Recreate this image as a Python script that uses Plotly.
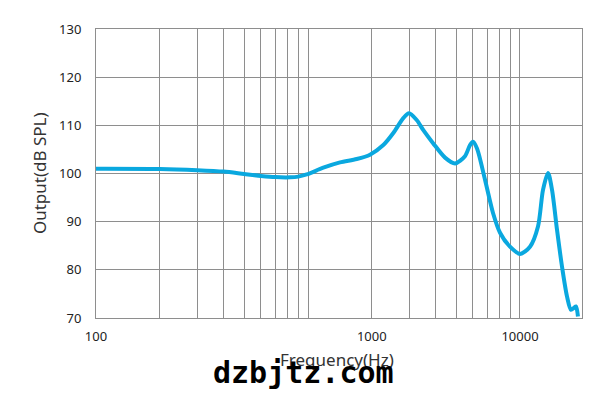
import plotly.graph_objects as go

freq_hz = [100, 200, 300, 400, 500, 600, 700, 823, 900, 986, 1181, 1416, 1697,
           1961, 2266, 2526, 2815, 2995, 3256, 3500, 3890, 4430, 4940, 5500, 5810,
           6000, 6270, 6840, 7460, 8050, 8970, 10000, 11150, 12160, 12840, 13560,
           14160, 14950, 15780, 16660, 17400, 17970, 18370, 18770]
spl_db = [101.0, 100.95, 100.7, 100.4, 99.9, 99.5, 99.25, 99.2, 99.35, 99.8, 101.2,
          102.3, 103.0, 103.9, 105.9, 108.4, 111.5, 112.5, 111.1, 109.0, 106.3, 103.3,
          102.1, 103.6, 105.9, 106.6, 105.2, 98.7, 91.8, 87.7, 84.8, 83.3, 84.8, 89.0,
          96.6, 100.1, 96.6, 88.3, 80.7, 74.5, 71.7, 72.1, 72.4, 70.3]

x_tick_vals = [100, 2000, 10000]
x_tick_text = ["100", "1000", "10000"]
x_minor_grid = [200, 300, 400, 500, 600, 700, 800, 900, 1000, 3000, 4000, 5000,
                6000, 7000, 8000, 9000]
y_tick_vals = [70, 80, 90, 100, 110, 120, 130]

grid_col = "#8e8e8e"
font_fam = "Noto Sans"

fig = go.Figure()
fig.add_trace(go.Scatter(
    x=freq_hz, y=spl_db, mode="lines",
    line=dict(color="#0AA8DF", width=4, shape="spline", smoothing=0.8),
    hoverinfo="skip", showlegend=False))

fig.update_layout(
    width=611, height=393,
    margin=dict(l=96, r=29, t=29, b=75),
    paper_bgcolor="white", plot_bgcolor="white",
    font=dict(family=font_fam, size=13, color="#222"),
    xaxis=dict(type="log", range=[2, 4.2925],
               tickvals=x_tick_vals, ticktext=x_tick_text,
               showgrid=True, gridcolor=grid_col, gridwidth=1,
               minor=dict(tickvals=x_minor_grid, showgrid=True, gridcolor=grid_col, gridwidth=1),
               showline=True, linecolor=grid_col, linewidth=1, mirror=True,
               ticks="outside", ticklen=6, tickcolor="rgba(0,0,0,0)",
               tickfont=dict(size=13, color="#222"), zeroline=False),
    yaxis=dict(range=[70, 130], tickvals=y_tick_vals,
               showgrid=True, gridcolor=grid_col, gridwidth=1,
               showline=True, linecolor=grid_col, linewidth=1, mirror=True,
               ticks="outside", ticklen=11, tickcolor="rgba(0,0,0,0)",
               tickfont=dict(size=13, color="#222"), zeroline=False),
    annotations=[
        dict(text="Output(dB SPL)", xref="paper", yref="paper", x=-0.116, y=0.5,
             xanchor="center", yanchor="middle", textangle=-90, showarrow=False,
             font=dict(family=font_fam, size=17, color="#333")),
        dict(text="Frequency(Hz)", xref="paper", yref="paper", x=0.496, y=-0.145,
             xanchor="center", yanchor="middle", showarrow=False,
             font=dict(family=font_fam, size=17, color="#333")),
        dict(text="<b>dzbjtz.com</b>", xref="paper", yref="paper", x=0.427, y=-0.19,
             xanchor="center", yanchor="middle", showarrow=False,
             font=dict(family="DejaVu Sans Mono", size=30, color="#000")),
    ],
)

fig.write_html("out.html")
